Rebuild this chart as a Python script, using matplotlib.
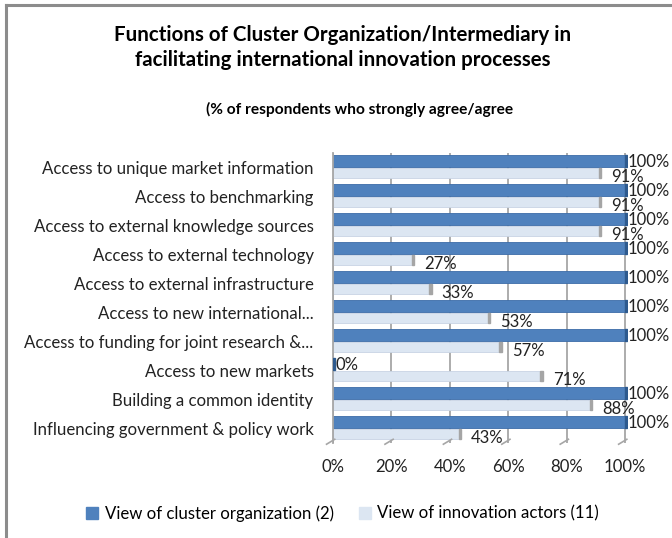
import matplotlib.pyplot as plt
import numpy as np
from matplotlib.patches import Rectangle

plt.rcParams['font.family'] = ['Lato', 'DejaVu Sans']

categories = ['Access to unique market information',
              'Access to benchmarking',
              'Access to external knowledge sources',
              'Access to external technology',
              'Access to external infrastructure',
              'Access to new international...',
              'Access to funding for joint research &...',
              'Access to new markets',
              'Building a common identity',
              'Influencing government & policy work']
cluster_org = [100, 100, 100, 100, 100, 100, 100, 0, 100, 100]
innov_actors = [91, 91, 91, 27, 33, 53, 57, 71, 88, 43]
xticks = [0, 20, 40, 60, 80, 100]

dark = '#4F81BD'
dark_end = '#2E5A8E'
light = '#DCE6F2'
light_end = '#A5A5A5'

fig = plt.figure(figsize=(6.72, 5.38), dpi=100)

# outer frame (only top and left visible in the reference)
fig.add_artist(plt.Line2D([0.009, 0.009], [0, 0.991], color='#8C8C8C', lw=2.2, transform=fig.transFigure))
fig.add_artist(plt.Line2D([0.009, 1.0], [0.991, 0.991], color='#8C8C8C', lw=2.2, transform=fig.transFigure))

fig.text(0.51, 0.935, 'Functions of Cluster Organization/Intermediary in',
         ha='center', va='center', fontsize=14.8, fontweight='bold')
fig.text(0.51, 0.888, 'facilitating international innovation processes',
         ha='center', va='center', fontsize=14.8, fontweight='bold')
fig.text(0.535, 0.797, '(% of respondents who strongly agree/agree',
         ha='center', va='center', fontsize=11.2, fontweight='bold')

ax = fig.add_axes([0.4955, 0.177, 0.439, 0.539])

n = len(categories)
y = np.arange(n)
h = 0.41

# gridlines on the back wall
for t in xticks:
    ax.axvline(t, color='#A6A6A6', lw=1.3, zorder=0)

ax.barh(y - h / 2, cluster_org, height=h, color=dark, edgecolor='#3C6CA8', lw=0.6, zorder=2)
ax.barh(y + h / 2, innov_actors, height=h * 0.85, color=light, edgecolor='#C8D4E4', lw=0.6, zorder=2)

# end caps to mimic the 3-D look
for i in range(n):
    ax.add_patch(Rectangle((cluster_org[i], i - h), 0.8, h, color=dark_end, zorder=3))
    ax.add_patch(Rectangle((innov_actors[i], i + h / 2 - h * 0.4), 0.8, h * 0.8, color=light_end, zorder=3))

for i in range(n):
    ax.text(cluster_org[i] + 1.0, i - h / 2 + 0.02, f'{cluster_org[i]}%',
            ha='left', va='center', fontsize=12, color='#222222', zorder=4)
    ax.text(innov_actors[i] + 4.2, i + h / 2 + 0.12, f'{innov_actors[i]}%',
            ha='left', va='center', fontsize=12, color='#222222', zorder=4)

# floor marks
for t in xticks:
    ax.plot([t - 2.2, t + 0.6], [n - 0.45, n - 0.62], color='#A6A6A6', lw=1.2, clip_on=False)

ax.set_xlim(0, 101)
ax.set_ylim(n - 0.5, -0.5)
ax.set_yticks(y)
ax.set_yticklabels(categories, fontsize=12.1, color='#222222')
ax.set_xticks(xticks)
ax.set_xticklabels([f'{t}%' for t in xticks], fontsize=12.1, color='#222222')
ax.tick_params(axis='both', length=0)
ax.tick_params(axis='y', pad=14)
ax.tick_params(axis='x', pad=12)
for s in ['top', 'right', 'bottom']:
    ax.spines[s].set_visible(False)
ax.spines['left'].set_color('#A6A6A6')
ax.spines['left'].set_linewidth(1.3)

handles = [Rectangle((0, 0), 1, 1, color=dark), Rectangle((0, 0), 1, 1, color=light)]
fig.legend(handles, ['View of cluster organization (2)', 'View of innovation actors (11)'],
           loc='center', bbox_to_anchor=(0.51, 0.046), ncol=2, frameon=False,
           fontsize=12.1, handlelength=0.7, handleheight=0.7, handletextpad=0.4,
           columnspacing=1.5)

fig.savefig('out.png', dpi=100)
